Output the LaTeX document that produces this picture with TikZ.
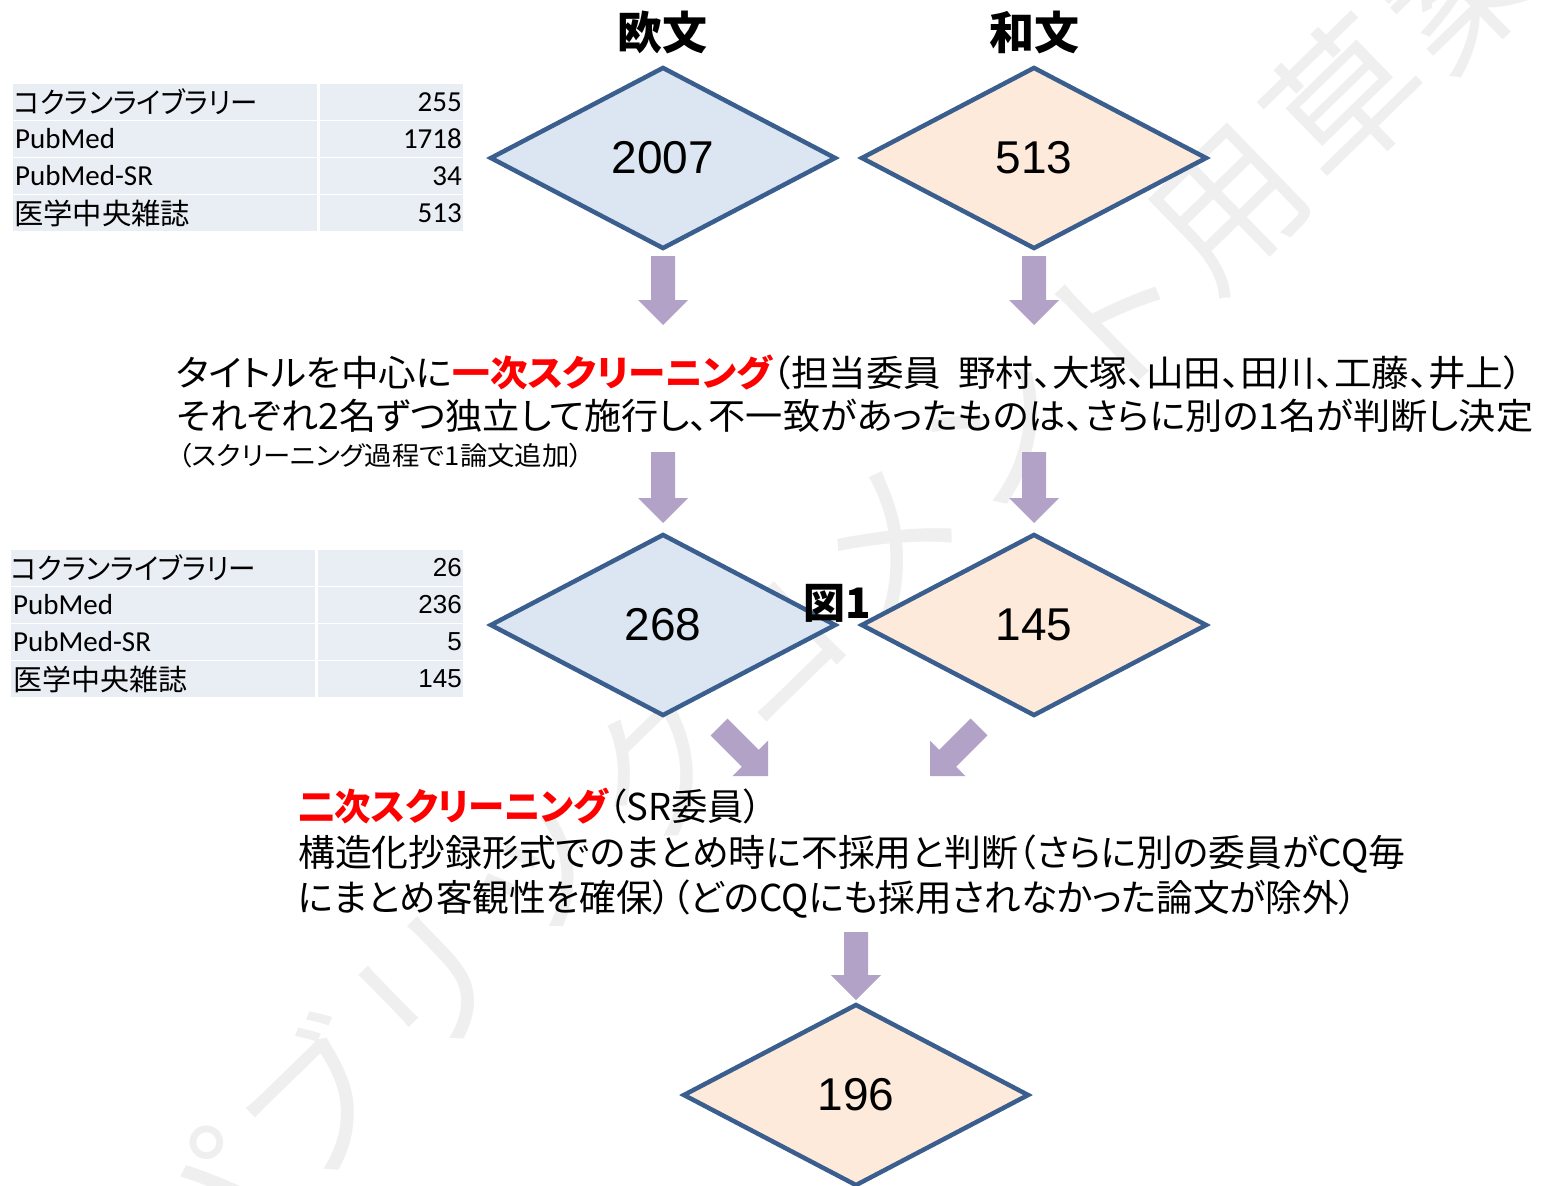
\documentclass[tikz,border=0pt]{standalone}
\usepackage{fontspec}
\usepackage{graphicx}
\usetikzlibrary{shapes.geometric,calc}
\newfontfamily\jp[RawFeature=+palt]{Noto Sans CJK JP}
\newfontfamily\jpf{Noto Sans CJK JP}
\newfontfamily\arialf{Liberation Sans}
\newfontfamily\calib{Carlito}
\definecolor{dblue}{HTML}{DCE6F2}
\definecolor{dpeach}{HTML}{FDEADA}
\definecolor{dborder}{HTML}{3A5F8E}
\definecolor{arrowc}{HTML}{B3A2C7}
\definecolor{tblc}{HTML}{E9EDF4}
\definecolor{wmc}{HTML}{EFEFEF}
\newcommand{\fitw}[2]{\resizebox{#1}{\height}{#2}}
\newcommand{\fsz}[1]{\fontsize{#1}{#1}\selectfont}
\newcommand{\barrow}[2]{%
  \coordinate (ba-h) at ($(#2)!25pt!(#1)$);
  \fill[arrowc] ($(#1)!12pt!90:(#2)$) -- ($(ba-h)!12pt!90:(#2)$) -- ($(ba-h)!25pt!90:(#2)$) -- (#2)
    -- ($(ba-h)!25pt!-90:(#2)$) -- ($(ba-h)!12pt!-90:(#2)$) -- ($(#1)!12pt!-90:(#2)$) -- cycle;}
\begin{document}
\begin{tikzpicture}[x=1pt,y=-1pt,
  wm/.style={text=wmc, font={\jpf\fsz{150}}, rotate=44.2, inner sep=0pt},
  dia/.style={diamond, draw=dborder, line width=4.5pt, minimum width=346pt, minimum height=182pt, aspect=1.9, inner sep=0pt, font={\arialf\fsz{46}}},
  cell/.style={fill=tblc, anchor=north west, inner sep=0pt, minimum height=36pt},
  ttl/.style={font={\jp\bfseries\fsz{45}}, inner sep=0pt},
  txt/.style={anchor=base west, inner sep=0pt},
  tl/.style={anchor=west, inner sep=0pt},
  tr/.style={anchor=east, inner sep=0pt}]
\useasboundingbox (0,0) rectangle (1543,1186);
\clip (0,0) rectangle (1543,1186);
\fill[white] (0,0) rectangle (1543,1186);
% watermark
\foreach \c [count=\i from 0] in {パ,ブ,リ,ッ,ク,コ,メ,ン,ト,用,草,案}
  \node[wm] (wm\i) at ({200.6+114.4*\i},{1211-111.3*\i}) {\c};
% table 1
\foreach \r/\y in {1/84,2/121,3/158,4/195}{
  \node[cell, minimum width=304pt] (ta\r) at (13,\y) {};
  \node[cell, minimum width=143pt] (tb\r) at (320,\y) {};
}
\node[tl] (ta1t) at (14,102) {\fitw{244pt}{\jp\fsz{29}コクランライブラリー}};
\node[tl] (ta2t) at (15,139) {\calib\fsz{29}PubMed};
\node[tl] (ta3t) at (15,176) {\calib\fsz{29}PubMed-SR};
\node[tl] (ta4t) at (14,213) {\fitw{176pt}{\jp\fsz{29}医学中央雑誌}};
\node[tr] (tb1t) at (462,102) {\calib\fsz{29}255};
\node[tr] (tb2t) at (462,139) {\calib\fsz{29}1718};
\node[tr] (tb3t) at (462,176) {\calib\fsz{29}34};
\node[tr] (tb4t) at (462,213) {\calib\fsz{29}513};
% table 2
\foreach \r/\y in {1/550,2/587,3/624,4/661}{
  \node[cell, minimum width=304pt] (tc\r) at (11,\y) {};
  \node[cell, minimum width=145pt] (td\r) at (318,\y) {};
}
\node[tl] (tc1t) at (11,568) {\fitw{245pt}{\jp\fsz{29}コクランライブラリー}};
\node[tl] (tc2t) at (13,605) {\calib\fsz{29}PubMed};
\node[tl] (tc3t) at (13,642) {\calib\fsz{29}PubMed-SR};
\node[tl] (tc4t) at (13,679) {\fitw{174pt}{\jp\fsz{29}医学中央雑誌}};
\node[tr] (td1t) at (462,568) {\arialf\fsz{26}26};
\node[tr] (td2t) at (462,605) {\arialf\fsz{26}236};
\node[tr] (td3t) at (462,642) {\arialf\fsz{26}5};
\node[tr] (td4t) at (462,679) {\arialf\fsz{26}145};
% titles
\node[ttl] (tEu) at (662,32) {欧文};
\node[ttl] (tJa) at (1034,32) {和文};
% diamonds
\node[dia, fill=dblue] (d1) at (663,158) {2007};
\node[dia, fill=dpeach] (d2) at (1034,158) {513};
\node[dia, fill=dblue] (d3) at (663,625) {268};
\node[dia, fill=dpeach] (d4) at (1034,625) {145};
\node[dia, fill=dpeach] (d5) at (856,1095) {196};
\node[font={\jp\bfseries\fsz{42}}, inner sep=0pt] (fig) at (837,603) {図1};
% arrows
\coordinate (a1s) at (663,256); \coordinate (a1e) at (663,325);
\coordinate (a2s) at (1034,256); \coordinate (a2e) at (1034,325);
\coordinate (a3s) at (663,452); \coordinate (a3e) at (663,523);
\coordinate (a4s) at (1034,452); \coordinate (a4e) at (1034,523);
\coordinate (a5s) at (719,727); \coordinate (a5e) at (768,776);
\coordinate (a6s) at (979,727); \coordinate (a6e) at (930,776);
\coordinate (a7s) at (856,932); \coordinate (a7e) at (856,1000);
\barrow{a1s}{a1e}
\barrow{a2s}{a2e}
\barrow{a3s}{a3e}
\barrow{a4s}{a4e}
\barrow{a5s}{a5e}
\barrow{a6s}{a6e}
\barrow{a7s}{a7e}
% first screening text
\node[txt] (s1a) at (176,386) {\fitw{1346pt}{\jp\fsz{36}タイトルを中心に\textcolor{red}{\bfseries 一次スクリーニング}（担当委員\hspace{0.45em}野村、大塚、山田、田川、工藤、井上）}};
\node[txt] (s1b) at (176,429) {\fitw{1357pt}{\jp\fsz{36}それぞれ2名ずつ独立して施行し、不一致があったものは、さらに別の1名が判断し決定}};
\node[txt] (s1c) at (178,465) {\fitw{405pt}{\jp\fsz{26}（スクリーニング過程で1論文追加）}};
% second screening text
\node[txt] (s2a) at (298,820) {\fitw{464pt}{\jp\fsz{37}\textcolor{red}{\bfseries 二次スクリーニング}（SR委員）}};
\node[txt] (s2b) at (298,866) {\fitw{1107pt}{\jp\fsz{37}構造化抄録形式でのまとめ時に不採用と判断（さらに別の委員がCQ毎}};
\node[txt] (s2c) at (298,911) {\fitw{1059pt}{\jp\fsz{37}にまとめ客観性を確保）（どのCQにも採用されなかった論文が除外）}};
\end{tikzpicture}
\end{document}
